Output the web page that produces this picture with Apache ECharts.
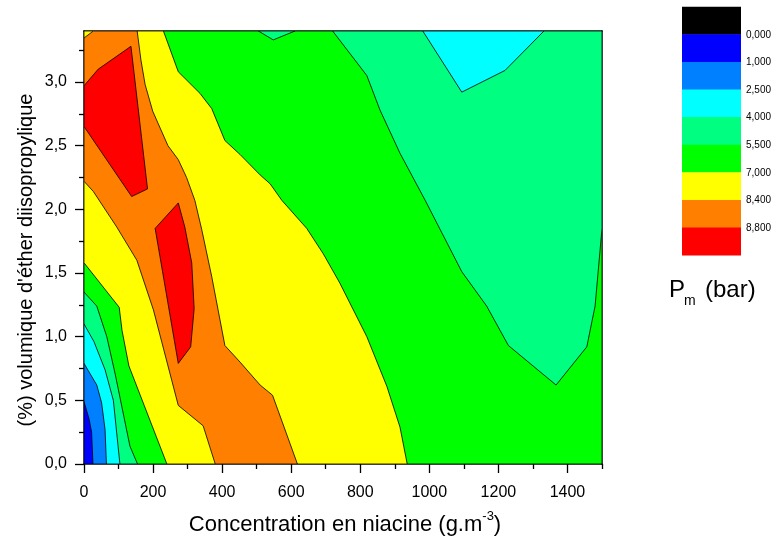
<!DOCTYPE html>
<html>
<head>
<meta charset="utf-8">
<script src="https://cdn.jsdelivr.net/npm/echarts@6/dist/echarts.min.js"></script>
<style>html,body{margin:0;padding:0;background:#fff}#c{width:779px;height:540px}</style>
</head>
<body>
<div id="c"></div>
<script>
// ---- Axis ticks ----
const xTickValues = [0, 200, 400, 600, 800, 1000, 1200, 1400];
const xMinorTicks = [100, 300, 500, 700, 900, 1100, 1300, 1500];
const yTickValues = [0, 0.5, 1.0, 1.5, 2.0, 2.5, 3.0];
const yMinorTicks = [0.25, 0.75, 1.25, 1.75, 2.25, 2.75, 3.25];

// ---- Contour levels (Pm, bar) ----
const levelValues = [0, 1000, 2500, 4000, 5500, 7000, 8400, 8800];
const levelColors = ['#000000', '#0000ff', '#0080ff', '#00ffff', '#00ff80', '#00ff00', '#ffff00', '#ff8000', '#ff0000'];

// ---- Contour regions (x: g/m3, y: %), with band index into levelColors ----
const regionAll = [[0, 0], [1500, 0], [1500, 3.4], [0, 3.4]];
const regionAllBand = 5;
const regionSgRight = [[720, 3.4], [819, 3.05], [857, 2.78], [915, 2.44], [988, 2.07], [1094, 1.51], [1166, 1.24], [1229, 0.93], [1367, 0.62], [1456, 0.92], [1480, 1.24], [1500, 1.85], [1500, 3.4]];
const regionSgRightBand = 4;
const regionCyanTop = [[981, 3.4], [1094, 2.92], [1219, 3.09], [1332, 3.4]];
const regionCyanTopBand = 3;
const regionSgNotch = [[505, 3.4], [548, 3.33], [611, 3.4]];
const regionSgNotchBand = 4;
const regionYellow = [[0, 3.4], [230, 3.4], [273, 3.08], [336, 2.91], [370, 2.79], [408, 2.54], [452, 2.43], [510, 2.27], [539, 2.20], [573, 2.07], [645, 1.85], [693, 1.65], [741, 1.42], [819, 1.00], [877, 0.61], [915, 0.29], [936, 0], [240, 0], [130, 0.77], [110, 1.05], [102, 1.23], [0, 1.58]];
const regionYellowBand = 6;
const regionOrange = [[27, 3.4], [154, 3.4], [165, 3.17], [177, 2.98], [199, 2.77], [243, 2.50], [273, 2.39], [297, 2.25], [321, 2.07], [341, 1.84], [370, 1.47], [408, 0.93], [452, 0.80], [510, 0.62], [546, 0.54], [618, 0], [380, 0], [345, 0.30], [273, 0.46], [201, 1.21], [153, 1.60], [95, 1.86], [27, 2.14], [0, 2.22], [0, 3.345]];
const regionOrangeBand = 7;
const regionRedUpper = [[0, 2.97], [41, 3.10], [136, 3.28], [184, 2.16], [138, 2.10], [0, 2.65]];
const regionRedUpperBand = 8;
const regionRedLower = [[206, 1.85], [273, 2.05], [292, 1.86], [312, 1.58], [319, 1.22], [309, 0.92], [273, 0.79]];
const regionRedLowerBand = 8;
const regionSgLeft = [[0, 1.35], [37, 1.24], [66, 1.00], [90, 0.71], [133, 0.14], [155, 0], [0, 0]];
const regionSgLeftBand = 4;
const regionCyanLeft = [[0, 1.10], [29, 0.96], [61, 0.74], [85, 0.50], [96, 0.21], [104, 0], [0, 0]];
const regionCyanLeftBand = 3;
const regionDodgerLeft = [[0, 0.79], [37, 0.62], [51, 0.48], [61, 0.27], [65, 0], [0, 0]];
const regionDodgerLeftBand = 2;
const regionBlueLeft = [[0, 0.49], [15, 0.35], [22, 0.25], [26, 0], [0, 0]];
const regionBlueLeftBand = 1;

const regions = [
  [regionAll, regionAllBand],
  [regionSgRight, regionSgRightBand],
  [regionCyanTop, regionCyanTopBand],
  [regionSgNotch, regionSgNotchBand],
  [regionYellow, regionYellowBand],
  [regionOrange, regionOrangeBand],
  [regionRedUpper, regionRedUpperBand],
  [regionRedLower, regionRedLowerBand],
  [regionSgLeft, regionSgLeftBand],
  [regionCyanLeft, regionCyanLeftBand],
  [regionDodgerLeft, regionDodgerLeftBand],
  [regionBlueLeft, regionBlueLeftBand]
];

const FONT = 'Liberation Sans, Arial, sans-serif';
const fmtLevel = v => (v / 1000).toFixed(3).replace('.', ',');

const chart = echarts.init(document.getElementById('c'), null, {renderer: 'canvas'});

const legendX = 682, legendTop = 6.7, boxW = 59, boxH = 27.6;
const graphics = [];
levelColors.forEach((c, i) => {
  graphics.push({type: 'rect', shape: {x: legendX, y: legendTop + i * boxH, width: boxW, height: boxH + 0.5}, style: {fill: c}, silent: true});
});
levelValues.forEach((v, i) => {
  graphics.push({type: 'text', x: 746, y: legendTop + (i + 1) * boxH + 0.5,
    style: {text: fmtLevel(v), fontSize: 10, fontFamily: FONT, fill: '#000', align: 'left', verticalAlign: 'middle'}, silent: true});
});
graphics.push({type: 'text', x: 669, y: 290,
  style: {text: 'P', fontSize: 24, fontFamily: FONT, fill: '#000', align: 'left', verticalAlign: 'middle'}, silent: true});
graphics.push({type: 'text', x: 684, y: 301,
  style: {text: 'm', fontSize: 14, fontFamily: FONT, fill: '#000', align: 'left', verticalAlign: 'middle'}, silent: true});
graphics.push({type: 'text', x: 705, y: 290,
  style: {text: '(bar)', fontSize: 24, fontFamily: FONT, fill: '#000', align: 'left', verticalAlign: 'middle'}, silent: true});
graphics.push({type: 'text', x: 26, y: 260, rotation: Math.PI / 2,
  style: {text: "(%) volumique d'éther diisopropylique", fontSize: 20, fontFamily: FONT, fill: '#000', align: 'center', verticalAlign: 'middle'}, silent: true});
graphics.push({type: 'text', x: 345, y: 523,
  style: {text: '{a|Concentration en niacine (g.m}{s|-3}{a|)}', align: 'center', verticalAlign: 'middle',
    rich: {a: {fontSize: 22, fontFamily: FONT, fill: '#000', lineHeight: 26, verticalAlign: 'bottom'},
           s: {fontSize: 13, fontFamily: FONT, fill: '#000', lineHeight: 13, verticalAlign: 'top'}}}, silent: true});

const lineStyle = {color: '#000', width: 1.5};
const tickStyle = {color: '#000', width: 1.3};

chart.setOption({
  animation: false,
  backgroundColor: '#fff',
  grid: {left: 84, top: 31, width: 518, height: 433, containLabel: false},
  xAxis: [
    {type: 'value', min: 0, max: 1500, interval: 100, position: 'bottom',
      axisLine: {show: true, onZero: false, lineStyle: lineStyle},
      axisTick: {show: true, customValues: xTickValues, length: 9, lineStyle: tickStyle},
      axisLabel: {show: true, customValues: xTickValues, margin: 21, fontSize: 16, fontFamily: FONT, color: '#000',
        formatter: v => String(v)},
      splitLine: {show: false}},
    {type: 'value', min: 0, max: 1500, interval: 100, position: 'bottom',
      axisLine: {show: false, onZero: false},
      axisTick: {show: true, customValues: xMinorTicks, length: 5, lineStyle: tickStyle},
      axisLabel: {show: false}, splitLine: {show: false}},
    {type: 'value', min: 0, max: 1500, interval: 100, position: 'top',
      axisLine: {show: true, onZero: false, lineStyle: lineStyle},
      axisTick: {show: false}, axisLabel: {show: false}, splitLine: {show: false}}
  ],
  yAxis: [
    {type: 'value', min: 0, max: 3.4, interval: 0.1, position: 'left',
      axisLine: {show: true, onZero: false, lineStyle: lineStyle},
      axisTick: {show: true, customValues: yTickValues, length: 9, lineStyle: tickStyle},
      axisLabel: {show: true, customValues: yTickValues, margin: 17, fontSize: 16, fontFamily: FONT, color: '#000',
        formatter: v => v.toFixed(1).replace('.', ',')},
      splitLine: {show: false}},
    {type: 'value', min: 0, max: 3.4, interval: 0.1, position: 'left',
      axisLine: {show: false, onZero: false},
      axisTick: {show: true, customValues: yMinorTicks, length: 5, lineStyle: tickStyle},
      axisLabel: {show: false}, splitLine: {show: false}},
    {type: 'value', min: 0, max: 3.4, interval: 0.1, position: 'right',
      axisLine: {show: true, onZero: false, lineStyle: lineStyle},
      axisTick: {show: false}, axisLabel: {show: false}, splitLine: {show: false}}
  ],
  series: [{
    type: 'custom',
    xAxisIndex: 0, yAxisIndex: 0,
    clip: true,
    silent: true,
    data: regions.map((r, i) => [i]),
    renderItem: function (params, api) {
      const reg = regions[params.dataIndex];
      const pts = reg[0].map(p => api.coord(p));
      return {type: 'polygon', shape: {points: pts},
        style: {fill: levelColors[reg[1]], stroke: '#000', lineWidth: 0.8}};
    }
  }],
  graphic: graphics
});
</script>
</body>
</html>
